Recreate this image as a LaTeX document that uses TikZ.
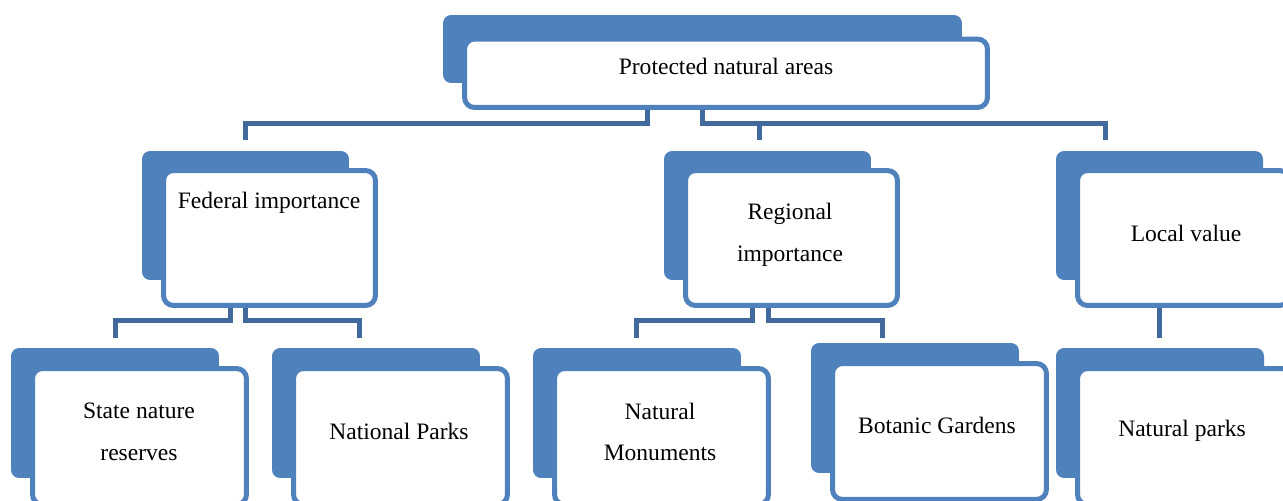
\documentclass[tikz,border=0pt]{standalone}
\usepackage{fontspec}
\setmainfont{Liberation Serif}
\definecolor{boxblue}{HTML}{4F81BD}
\definecolor{linkblue}{HTML}{41699C}

\begin{document}
\begin{tikzpicture}[x=0.02cm,y=-0.02cm,
  back/.style={fill=boxblue,rounded corners=0.16cm,inner sep=0pt},
  front/.style={draw=boxblue,fill=white,line width=0.1cm,rounded corners=0.2cm,inner sep=0pt},
  lbl/.style={align=center,font=\fontsize{13.4}{23.8}\selectfont},
  link/.style={draw=linkblue,line width=0.1cm}]
  \useasboundingbox (0,0) rectangle (1283,500);
  \clip (0,0) rectangle (1283,500);

  % top level
  \node[back,minimum width=10.38cm,minimum height=1.36cm] (pna-bk) at (702.5,49) {};
  \node[front,minimum width=10.46cm,minimum height=1.37cm] (pna) at (726,73.25) {};

  % second level
  \foreach \n/\x in {fed/245.5, reg/767.5, loc/1159.5} {
    \node[back,minimum width=4.14cm,minimum height=2.58cm] (\n-bk) at (\x,215.5) {};
    \node[front,minimum width=4.24cm,minimum height=2.7cm] (\n) at (\x+24,238) {};
  }

  % third level
  \foreach \n/\x/\y in {snr/115/413, np/376/413, nm/637/413, bg/915/408, npk/1160/413} {
    \node[back,minimum width=4.16cm,minimum height=2.6cm] (\n-bk) at (\x,\y) {};
    \node[front,minimum width=4.28cm,minimum height=2.72cm] (\n) at (\x+24.5,\y+23.5) {};
  }

  % labels
  \node[lbl] (pna-t) at (726,66) {Protected natural areas};
  \node[lbl] (fed-t) at (269,203) {Federal importance};
  \node[lbl] (reg-t) at (790,234.5) {Regional\\importance};
  \node[lbl] (loc-t) at (1186,233) {Local value};
  \node[lbl] (snr-t) at (139,432) {State nature\\reserves};
  \node[lbl] (np-t) at (399,431) {National Parks};
  \node[lbl] (nm-t) at (660,432) {Natural\\Monuments};
  \node[lbl] (bg-t) at (937,425) {Botanic Gardens};
  \node[lbl] (npk-t) at (1182,431) {Natural parks};

  % connectors, top to second level
  \coordinate (j1) at (647.5,123.5);
  \coordinate (j2) at (702.5,123.5);
  \coordinate (fed-in) at (245.5,140);
  \coordinate (reg-in) at (759.5,140);
  \coordinate (loc-in) at (1105,140);
  \draw[link] (j1 |- pna.south) -- (j1) -| (fed-in);
  \draw[link] (j2 |- pna.south) -- (j2) -| (loc-in);
  \draw[link] (reg-in |- j2) -- (reg-in);

  % connectors, second to third level
  \coordinate (j3) at (230.5,320.5);
  \coordinate (j4) at (245.5,320.5);
  \coordinate (j5) at (752.5,320.5);
  \coordinate (j6) at (768.5,320.5);
  \coordinate (snr-in) at (115.5,338);
  \coordinate (np-in) at (359.5,338);
  \coordinate (nm-in) at (636.5,338);
  \coordinate (bg-in) at (882.5,338);
  \coordinate (npk-in) at (1159.5,338);
  \draw[link] (j3 |- fed.south) -- (j3) -| (snr-in);
  \draw[link] (j4 |- fed.south) -- (j4) -| (np-in);
  \draw[link] (j5 |- reg.south) -- (j5) -| (nm-in);
  \draw[link] (j6 |- reg.south) -- (j6) -| (bg-in);
  \draw[link] (npk-in |- loc.south) -- (npk-in);
\end{tikzpicture}
\end{document}
